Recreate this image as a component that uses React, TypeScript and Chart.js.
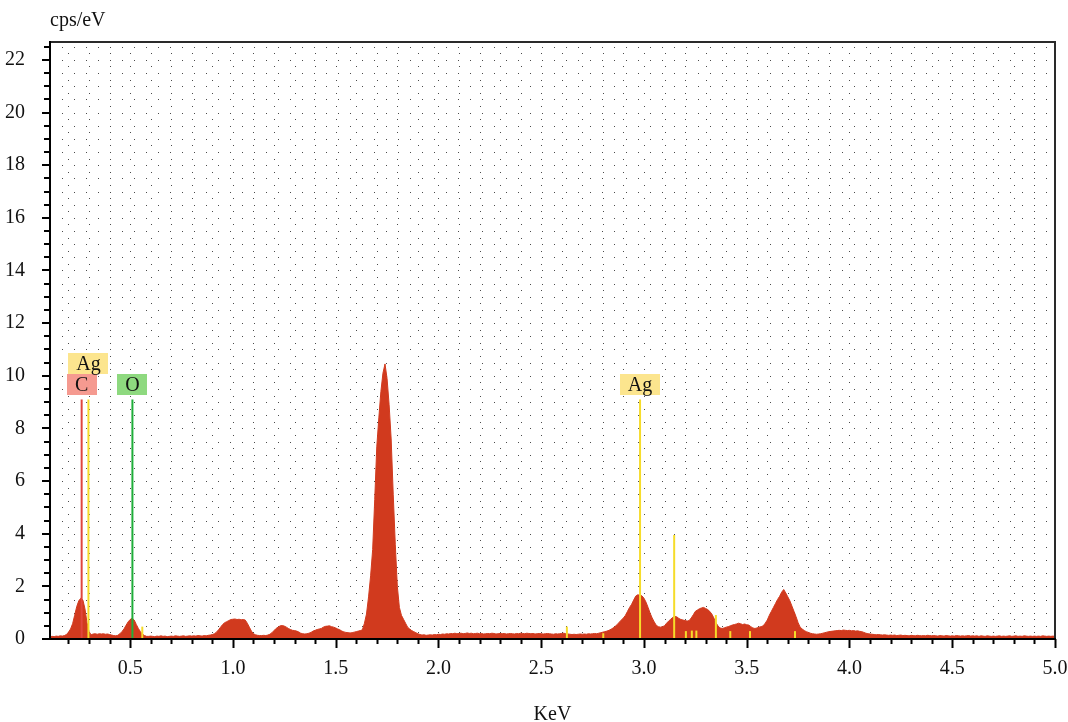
import React, { useEffect, useRef } from 'react';
import { Chart, registerables } from 'chart.js';

Chart.register(...registerables);

// Spectrum channels: first channel energy (keV) and channel width (keV)
const energyStartKeV = 0.11;
const energyStepKeV = 0.01;

// counts (cps/eV) per channel, 0.11 .. 5.00 keV
const spectrumCps = [
  0.09, 0.10, 0.09, 0.11, 0.10, 0.12, 0.11, 0.13, 0.17, 0.26,
  0.38, 0.58, 0.90, 1.23, 1.45, 1.55, 1.48, 1.15, 0.62, 0.28,
  0.16, 0.19, 0.20, 0.18, 0.20, 0.19, 0.20, 0.18, 0.19, 0.17,
  0.15, 0.13, 0.12, 0.14, 0.20, 0.28, 0.38, 0.52, 0.65, 0.74,
  0.79, 0.72, 0.55, 0.40, 0.28, 0.18, 0.13, 0.10, 0.10, 0.11,
  0.10, 0.09, 0.11, 0.10, 0.12, 0.10, 0.11, 0.09, 0.10, 0.11,
  0.10, 0.12, 0.11, 0.10, 0.11, 0.12, 0.10, 0.11, 0.12, 0.11,
  0.12, 0.11, 0.13, 0.12, 0.11, 0.13, 0.12, 0.14, 0.15, 0.17,
  0.20, 0.26, 0.35, 0.45, 0.55, 0.62, 0.66, 0.70, 0.74, 0.75,
  0.76, 0.74, 0.75, 0.73, 0.74, 0.72, 0.60, 0.45, 0.30, 0.20,
  0.16, 0.14, 0.13, 0.13, 0.14, 0.13, 0.15, 0.18, 0.24, 0.32,
  0.40, 0.45, 0.50, 0.51, 0.49, 0.45, 0.40, 0.36, 0.33, 0.32,
  0.30, 0.27, 0.22, 0.20, 0.19, 0.20, 0.22, 0.25, 0.30, 0.33,
  0.36, 0.38, 0.40, 0.45, 0.48, 0.49, 0.50, 0.47, 0.45, 0.42,
  0.38, 0.35, 0.30, 0.27, 0.25, 0.24, 0.23, 0.24, 0.26, 0.28,
  0.30, 0.32, 0.35, 0.60, 0.95, 1.60, 2.40, 3.40, 5.30, 7.30,
  8.40, 9.40, 10.10, 10.45, 9.90, 8.90, 7.60, 5.50, 3.60, 2.00,
  1.20, 0.90, 0.75, 0.60, 0.45, 0.38, 0.32, 0.28, 0.24, 0.20,
  0.17, 0.15, 0.16, 0.14, 0.15, 0.16, 0.15, 0.17, 0.16, 0.18,
  0.17, 0.19, 0.18, 0.20, 0.19, 0.21, 0.20, 0.22, 0.20, 0.21,
  0.22, 0.20, 0.21, 0.23, 0.21, 0.22, 0.20, 0.21, 0.22, 0.20,
  0.21, 0.19, 0.20, 0.21, 0.20, 0.22, 0.21, 0.19, 0.20, 0.21,
  0.20, 0.21, 0.19, 0.20, 0.21, 0.20, 0.19, 0.21, 0.20, 0.22,
  0.21, 0.20, 0.22, 0.21, 0.20, 0.21, 0.19, 0.20, 0.21, 0.20,
  0.19, 0.20, 0.21, 0.20, 0.19, 0.18, 0.20, 0.19, 0.20, 0.21,
  0.22, 0.20, 0.19, 0.18, 0.17, 0.18, 0.17, 0.18, 0.19, 0.18,
  0.19, 0.18, 0.20, 0.19, 0.20, 0.21, 0.20, 0.22, 0.24, 0.26,
  0.28, 0.30, 0.33, 0.37, 0.42, 0.48, 0.55, 0.64, 0.72, 0.80,
  0.90, 1.05, 1.20, 1.32, 1.48, 1.63, 1.68, 1.66, 1.64, 1.55,
  1.40, 1.20, 0.98, 0.80, 0.65, 0.52, 0.47, 0.45, 0.47, 0.50,
  0.60, 0.68, 0.75, 0.82, 0.86, 0.84, 0.78, 0.74, 0.72, 0.70,
  0.68, 0.70, 0.80, 0.92, 1.05, 1.10, 1.15, 1.18, 1.20, 1.16,
  1.12, 1.05, 0.95, 0.80, 0.62, 0.50, 0.42, 0.40, 0.42, 0.45,
  0.47, 0.50, 0.53, 0.55, 0.57, 0.60, 0.58, 0.55, 0.57, 0.54,
  0.53, 0.47, 0.42, 0.40, 0.42, 0.45, 0.47, 0.50, 0.60, 0.72,
  0.90, 1.05, 1.20, 1.35, 1.50, 1.62, 1.78, 1.88, 1.75, 1.60,
  1.45, 1.25, 1.05, 0.85, 0.62, 0.45, 0.38, 0.32, 0.28, 0.25,
  0.22, 0.20, 0.19, 0.18, 0.19, 0.20, 0.22, 0.24, 0.26, 0.28,
  0.29, 0.30, 0.31, 0.32, 0.33, 0.32, 0.34, 0.33, 0.32, 0.33,
  0.31, 0.32, 0.30, 0.31, 0.29, 0.28, 0.25, 0.22, 0.20, 0.19,
  0.18, 0.17, 0.16, 0.17, 0.16, 0.15, 0.16, 0.15, 0.14, 0.15,
  0.14, 0.15, 0.13, 0.14, 0.15, 0.13, 0.14, 0.13, 0.12, 0.14,
  0.13, 0.12, 0.14, 0.13, 0.12, 0.13, 0.12, 0.14, 0.13, 0.12,
  0.13, 0.12, 0.11, 0.13, 0.12, 0.11, 0.13, 0.12, 0.11, 0.12,
  0.11, 0.13, 0.12, 0.11, 0.12, 0.11, 0.12, 0.13, 0.11, 0.12,
  0.11, 0.12, 0.10, 0.12, 0.11, 0.10, 0.12, 0.11, 0.10, 0.11,
  0.10, 0.11, 0.12, 0.10, 0.11, 0.10, 0.11, 0.12, 0.10, 0.11,
  0.12, 0.10, 0.11, 0.10, 0.12, 0.11, 0.10, 0.11, 0.10, 0.11,
  0.10, 0.11, 0.10, 0.12, 0.11, 0.10, 0.11, 0.10, 0.11, 0.10,
];

// Element marker lines
const markerKeV = [0.264, 0.297, 0.511, 2.981, 3.147, 0.559, 2.625, 2.802, 3.204, 3.233, 3.255, 3.35, 3.42, 3.516, 3.735];
const markerHeight = [9.1, 9.1, 9.1, 9.1, 3.95, 0.47, 0.47, 0.22, 0.3, 0.32, 0.32, 0.91, 0.3, 0.3, 0.3];
const markerElement = ['C', 'Ag', 'O', 'Ag', 'Ag', 'Ag', 'Ag', 'Ag', 'Ag', 'Ag', 'Ag', 'Ag', 'Ag', 'Ag', 'Ag'];

// Element labels
const labelText = ['C', 'Ag', 'O', 'Ag'];
const labelKeV = [0.264, 0.297, 0.511, 2.981];
const labelLevel = [0, 1, 0, 0];

const elementLineColor: Record<string, string> = { C: '#e0463c', Ag: '#f6dc2a', O: '#1fae3a' };
const elementBoxColor: Record<string, string> = { C: '#f59a90', Ag: '#fce58e', O: '#8ed97f' };

const xMin = 0.11;
const xMax = 5.0;
const yMin = 0;
const yMax = 22.68;
const xTitle = 'KeV';
const yTitle = 'cps/eV';

const SERIF = '"Liberation Serif", "Times New Roman", serif';
const FONT_SIZE = 20;
const SPECTRUM_COLOR = '#d13a1e';

const decorPlugin = {
  id: 'decor',
  beforeDatasetsDraw(chart: any) {
    const { ctx, chartArea: a, scales } = chart;
    const x = scales.x;
    const y = scales.y;
    ctx.save();
    ctx.fillStyle = 'rgba(30,30,30,0.8)';
    // vertical dotted lines each 0.1 keV
    for (let k = 2; k <= 49; k++) {
      const px = Math.round(x.getPixelForValue(k / 10));
      for (let j = 0; j * 0.5 + 0.25 < yMax; j++) {
        const py = Math.round(y.getPixelForValue(j * 0.5 + 0.25));
        ctx.fillRect(px, py, 1, 1);
      }
    }
    // horizontal dotted lines each 0.5
    for (let j = 1; j * 0.5 < yMax; j++) {
      const py = Math.round(y.getPixelForValue(j * 0.5));
      for (let px = a.left + 12; px < a.right - 3; px += 12) {
        ctx.fillRect(Math.round(px), py, 1, 1);
      }
    }
    ctx.restore();
  },
  afterDraw(chart: any) {
    const { ctx, chartArea: a, scales } = chart;
    const x = scales.x;
    const y = scales.y;
    ctx.save();
    // frame
    ctx.lineWidth = 2;
    ctx.strokeStyle = '#2a2a2a';
    ctx.beginPath();
    ctx.moveTo(a.left, a.top);
    ctx.lineTo(a.right, a.top);
    ctx.lineTo(a.right, a.bottom);
    ctx.stroke();
    ctx.strokeStyle = '#000';
    ctx.beginPath();
    ctx.moveTo(a.left, a.top - 1);
    ctx.lineTo(a.left, a.bottom);
    ctx.lineTo(a.right + 1, a.bottom);
    ctx.stroke();
    // x ticks
    for (let k = 2; k <= 50; k++) {
      const px = Math.round(x.getPixelForValue(k / 10)) + 0.5;
      const len = k % 5 === 0 ? 9 : 5;
      ctx.beginPath();
      ctx.moveTo(px, a.bottom);
      ctx.lineTo(px, a.bottom + len);
      ctx.stroke();
    }
    // y ticks
    for (let j = 0; j * 0.5 <= yMax; j++) {
      const py = Math.round(y.getPixelForValue(j * 0.5));
      const len = j % 4 === 0 ? 8 : 6;
      ctx.beginPath();
      ctx.moveTo(a.left - len, py);
      ctx.lineTo(a.left, py);
      ctx.stroke();
    }
    // y title
    ctx.fillStyle = '#111';
    ctx.font = `${FONT_SIZE}px ${SERIF}`;
    ctx.textAlign = 'left';
    ctx.textBaseline = 'alphabetic';
    ctx.fillText(yTitle, a.left, 26);
    // element labels
    ctx.textAlign = 'center';
    ctx.textBaseline = 'middle';
    for (let i = 0; i < labelText.length; i++) {
      const t = labelText[i];
      const cx = x.getPixelForValue(labelKeV[i]);
      const w = t.length > 1 ? 40 : 30;
      const h = 21;
      const bottom = y.getPixelForValue(9.1) - 4 - labelLevel[i] * h;
      ctx.fillStyle = elementBoxColor[t];
      ctx.fillRect(Math.round(cx - w / 2), Math.round(bottom - h), w, h);
      ctx.fillStyle = '#111';
      ctx.fillText(t, cx, bottom - h / 2 + 1);
    }
    ctx.restore();
  },
};

export default function App() {
  const ref = useRef<HTMLCanvasElement>(null);
  useEffect(() => {
    document.body.style.margin = '0';
    const canvas = ref.current;
    if (!canvas) return;
    const spectrum = spectrumCps.map((v, i) => ({ x: energyStartKeV + i * energyStepKeV, y: v }));
    const markerSets = markerKeV.map((e, i) => ({
      type: 'line' as const,
      data: [
        { x: e, y: 0 },
        { x: e, y: markerHeight[i] },
      ],
      borderColor: elementLineColor[markerElement[i]],
      borderWidth: 2,
      pointRadius: 0,
      fill: false,
      order: 1,
    }));
    const chart = new Chart(canvas, {
      type: 'line',
      data: {
        datasets: [
          {
            data: spectrum,
            borderColor: SPECTRUM_COLOR,
            backgroundColor: SPECTRUM_COLOR,
            borderWidth: 1,
            pointRadius: 0,
            tension: 0,
            fill: 'origin',
            order: 2,
          } as any,
          ...markerSets,
        ],
      },
      options: {
        animation: false,
        responsive: false,
        maintainAspectRatio: false,
        layout: { padding: { top: 42, right: 13, left: 0, bottom: 0 } },
        plugins: { legend: { display: false }, tooltip: { enabled: false }, title: { display: false } },
        scales: {
          x: {
            type: 'linear',
            min: xMin,
            max: xMax,
            offset: false,
            grid: { display: false },
            border: { display: false },
            ticks: {
              stepSize: 0.5,
              includeBounds: false,
              maxRotation: 0,
              autoSkip: false,
              padding: 10,
              color: '#111',
              font: { family: SERIF, size: FONT_SIZE },
              callback: (v: any) => Number(v).toFixed(1),
            },
            title: {
              display: true,
              text: xTitle,
              color: '#111',
              font: { family: SERIF, size: FONT_SIZE, lineHeight: 1 },
              padding: { top: 0, bottom: -3 },
            },
            afterFit: (s: any) => {
              s.height = 83;
              s.paddingLeft = 0;
              s.paddingRight = 0;
            },
          },
          y: {
            type: 'linear',
            min: yMin,
            max: yMax,
            grid: { display: false },
            border: { display: false },
            ticks: {
              stepSize: 2,
              includeBounds: false,
              padding: 17,
              color: '#111',
              font: { family: SERIF, size: FONT_SIZE },
              callback: (v: any) => String(Math.round(Number(v))),
            },
            afterFit: (s: any) => {
              s.width = 50;
              s.paddingTop = 0;
              s.paddingBottom = 0;
            },
          },
        },
      },
      plugins: [decorPlugin],
    });
    return () => chart.destroy();
  }, []);
  return (
    <div style={{ width: 1068, height: 722 }}>
      <canvas ref={ref} width={1068} height={722} style={{ display: 'block', width: 1068, height: 722 }} />
    </div>
  );
}
